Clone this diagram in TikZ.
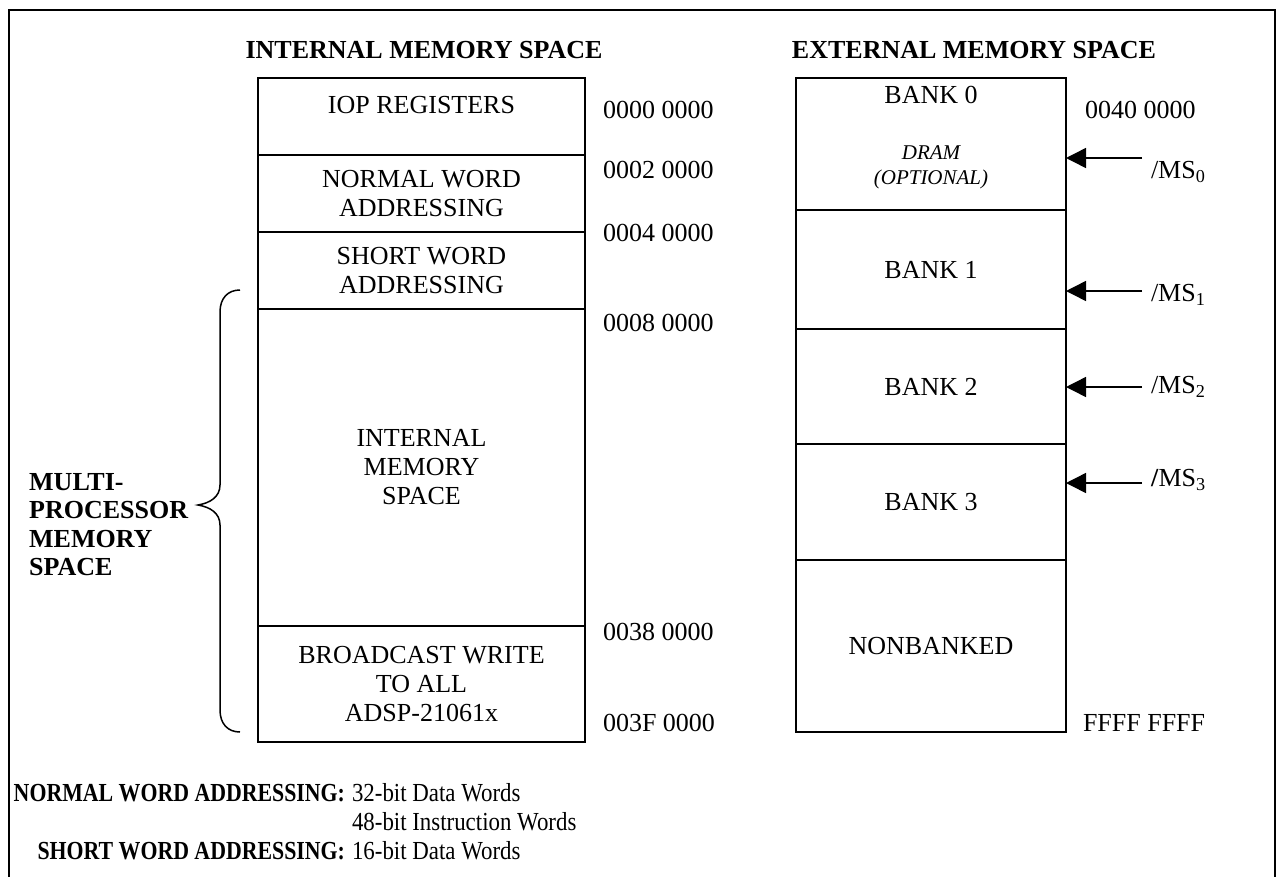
\documentclass[tikz,border=0pt]{standalone}
\usepackage{fontspec}
\setmainfont{Liberation Serif}
\newfontfamily\notelabelfont[FakeStretch=0.84]{Liberation Serif}
\newfontfamily\notevaluefont[FakeStretch=0.88]{Liberation Serif}
\usetikzlibrary{arrows.meta}
\newcommand\bodyfont{\fontsize{26}{29}\selectfont}
\newcommand\smallital{\fontsize{21}{25}\selectfont\itshape}
\tikzset{
  region/.style={draw, line width=1.5pt, inner sep=0pt, outer sep=0pt, align=center, font=\bodyfont},
  txt/.style={inner sep=0pt, outer sep=0pt, align=center, font=\bodyfont},
  addr/.style={inner sep=0pt, outer sep=0pt, anchor=west, font=\bodyfont},
  hdr/.style={inner sep=0pt, outer sep=0pt, font=\bodyfont\bfseries},
  notelabel/.style={inner sep=0pt, outer sep=0pt, anchor=east, font=\notelabelfont\bodyfont\bfseries},
  notevalue/.style={inner sep=0pt, outer sep=0pt, anchor=west, font=\notevaluefont\bodyfont},
  msarrow/.style={line width=1.5pt, -{Triangle[length=20pt,width=20pt]}},
  frame/.style={line width=2pt},
  bracestyle/.style={line width=1.5pt}
}
\begin{document}
\begin{tikzpicture}[x=1pt,y=-1pt]
\useasboundingbox (0,0) rectangle (1277,876);
% outer frame (continues below the visible area)
\draw[frame] (9,890) -- (9,10) -- (1275,10) -- (1275,890);

% headers
\node[hdr] (hint) at (424,50) {INTERNAL MEMORY SPACE};
\node[hdr] (hext) at (974,50) {EXTERNAL MEMORY SPACE};

% internal memory map
\node[region, minimum width=327pt, minimum height=77pt] (iop) at (421.5,116.5) {};
\node[txt] (iopt) at (421.5,105) {IOP REGISTERS};
\node[region, minimum width=327pt, minimum height=77pt] (nwa) at (421.5,193.5) {NORMAL WORD\\ADDRESSING};
\node[region, minimum width=327pt, minimum height=77pt] (swa) at (421.5,270.5) {SHORT WORD\\ADDRESSING};
\node[region, minimum width=327pt, minimum height=317pt] (ims) at (421.5,467.5) {INTERNAL\\MEMORY\\SPACE};
\node[region, minimum width=327pt, minimum height=116pt] (bcw) at (421.5,684) {BROADCAST WRITE\\TO ALL\\ADSP-21061x};

% internal addresses
\node[addr] (a1) at (603,110) {0000 0000};
\node[addr] (a2) at (603,170) {0002 0000};
\node[addr] (a3) at (603,233) {0004 0000};
\node[addr] (a4) at (603,323) {0008 0000};
\node[addr] (a5) at (603,632) {0038 0000};
\node[addr] (a6) at (603,723) {003F 0000};

% external memory map
\node[region, minimum width=270pt, minimum height=132pt] (b0) at (931,144) {};
\node[txt] (b0t) at (931,95) {BANK 0};
\node[txt, font=\smallital, text depth=0pt] (b0d) at (931,165) {DRAM\\(OPTIONAL)};
\node[region, minimum width=270pt, minimum height=119pt] (b1) at (931,269.5) {BANK 1};
\node[region, minimum width=270pt, minimum height=115pt] (b2) at (931,386.5) {BANK 2};
\node[region, minimum width=270pt, minimum height=116pt] (b3) at (931,502) {BANK 3};
\node[region, minimum width=270pt, minimum height=172pt] (nb) at (931,646) {NONBANKED};

% external addresses
\node[addr] (e1) at (1085,110) {0040 0000};
\node[addr] (e2) at (1083,723) {FFFF FFFF};

% memory select arrows
\coordinate (s0) at (1142,158);
\coordinate (s1) at (1142,291);
\coordinate (s2) at (1142,387);
\coordinate (s3) at (1142,483);
\draw[msarrow] (s0) -- (s0 -| b0.east);
\draw[msarrow] (s1) -- (s1 -| b1.east);
\draw[msarrow] (s2) -- (s2 -| b2.east);
\draw[msarrow] (s3) -- (s3 -| b3.east);
\node[addr] (m0) at (1151,172) {/MS\textsubscript{0}};
\node[addr] (m1) at (1151,295) {/MS\textsubscript{1}};
\node[addr] (m2) at (1151,387) {/MS\textsubscript{2}};
\node[addr] (m3) at (1151,480) {\textbf{/}MS\textsubscript{3}};

% multiprocessor brace
\draw[bracestyle] (240,290) .. controls (228,290) and (220,298) .. (220,312)
  -- (220,485) .. controls (220,497) and (210,503) .. (198,505)
  .. controls (210,507) and (220,513) .. (220,525)
  -- (220,710) .. controls (220,724) and (228,732) .. (240,732);
\node[inner sep=0pt, anchor=west, align=left, font=\fontsize{26}{28.5}\selectfont\bfseries] (mp) at (29,524.5) {MULTI-\\PROCESSOR\\MEMORY\\SPACE};

% notes
\node[notelabel] (n1) at (345,793) {NORMAL WORD ADDRESSING:};
\node[notelabel] (n2) at (345,851) {SHORT WORD ADDRESSING:};
\node[notevalue] (v1) at (352,793) {32-bit Data Words};
\node[notevalue] (v2) at (352,822) {48-bit Instruction Words};
\node[notevalue] (v3) at (352,851) {16-bit Data Words};
\end{tikzpicture}
\end{document}
